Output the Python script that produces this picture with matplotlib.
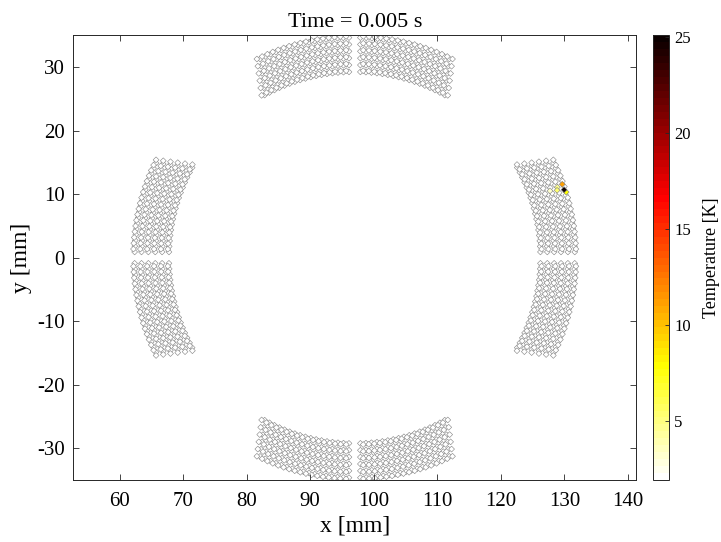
import numpy as np
import matplotlib
matplotlib.use("Agg")
import matplotlib.pyplot as plt

plt.rcParams['font.family'] = ['Liberation Serif', 'DejaVu Serif']
plt.rcParams['axes.unicode_minus'] = False

# coil cross-section, all lengths in mm
x_centre = 97.0
layer_radii = [29.35, 30.43, 31.51, 32.59, 33.67, 34.75]
edge_offset = [14.6, 14.75, 14.9, 15.05, 15.2, 15.35]   # end of each layer, from symmetry plane
gap_offset = 0.9                                         # start of each layer, from symmetry plane
strands_per_row = 17
row_shift = 0.1                                          # two staggered strand rows per layer
block_angles = [0, 90, 180, 270]                         # deg, symmetry planes
block_sides = [1, -1]

# temperatures
T_base = 1.9
hot_layer = [5, 5, 5, 4, 4, 3]
hot_angle = [18.0, 19.2, 16.9, 18.5, 19.3, 18.7]   # deg from midplane, upper right block
hot_temp = [25.0, 11.0, 8.0, 5.5, 4.5, 3.0]
t_min, t_max = 1.9, 25.1

time_s = 0.005
x_ticks = [60, 70, 80, 90, 100, 110, 120, 130, 140]
y_ticks = [-30, -20, -10, 0, 10, 20, 30]
cb_ticks = [5, 10, 15, 20, 25]


def layer_strands(k):
    r = layer_radii[k]
    a0 = np.arcsin(gap_offset / r)
    a1 = np.arcsin(edge_offset[k] / r)
    d = (a1 - a0) / (strands_per_row - 0.5)
    i = np.arange(strands_per_row)
    ang = np.concatenate([a0 + i * d, a0 + (i + 0.5) * d])
    rad = np.concatenate([np.full(strands_per_row, r - row_shift),
                          np.full(strands_per_row, r + row_shift)])
    return rad, ang


xs, ys, ts = [], [], []
for phi in block_angles:
    for side in block_sides:
        for k in range(len(layer_radii)):
            rad, ang = layer_strands(k)
            temp = np.full(len(ang), T_base)
            if phi == 0 and side == 1:
                for lay, a, t in zip(hot_layer, hot_angle, hot_temp):
                    if lay == k:
                        j = np.argmin(np.abs(np.degrees(ang) - a))
                        temp[j] = t
            full = np.radians(phi) + side * ang
            xs.append(x_centre + rad * np.cos(full))
            ys.append(rad * np.sin(full))
            ts.append(temp)

xs = np.concatenate(xs)
ys = np.concatenate(ys)
ts = np.concatenate(ts)
order = np.argsort(ts, kind='stable')

fig = plt.figure(figsize=(7.21, 5.42), dpi=100)
ax = fig.add_axes([0.1008, 0.1144, 0.7823, 0.8205])
sc = ax.scatter(xs[order], ys[order], c=ts[order], cmap=plt.get_cmap('hot_r', 64),
                vmin=t_min, vmax=t_max, marker='D', s=9,
                edgecolors=(0.5, 0.5, 0.5), linewidths=0.4)

ax.set_xlim(52.7, 141.3)
ax.set_ylim(-35, 35)
ax.set_aspect('equal', adjustable='box')
ax.set_xticks(x_ticks)
ax.set_yticks(y_ticks)
ax.tick_params(direction='in', top=True, right=True, length=4, width=0.6,
               labelsize=15, color=(0.15, 0.15, 0.15))
ax.tick_params(axis='x', pad=9)
ax.tick_params(axis='y', pad=6)
for sp in ax.spines.values():
    sp.set_color((0.15, 0.15, 0.15))
    sp.set_linewidth(0.7)
ax.set_xlabel('x [mm]', fontsize=17, labelpad=3)
ax.set_ylabel('y [mm]', fontsize=17, labelpad=4)
ax.set_title('Time = %g s' % time_s, fontsize=16, pad=6)

cax = fig.add_axes([0.906, 0.1144, 0.0222, 0.8205])
cb = fig.colorbar(sc, cax=cax)
cb.set_ticks(cb_ticks)
cb.ax.tick_params(direction='in', length=3, width=0.6, labelsize=12,
                  color=(0.15, 0.15, 0.15))
cb.outline.set_edgecolor((0.15, 0.15, 0.15))
cb.outline.set_linewidth(0.7)
cb.set_label('Temperature [K]', fontsize=13, labelpad=9)

fig.savefig('out.png', dpi=100)
